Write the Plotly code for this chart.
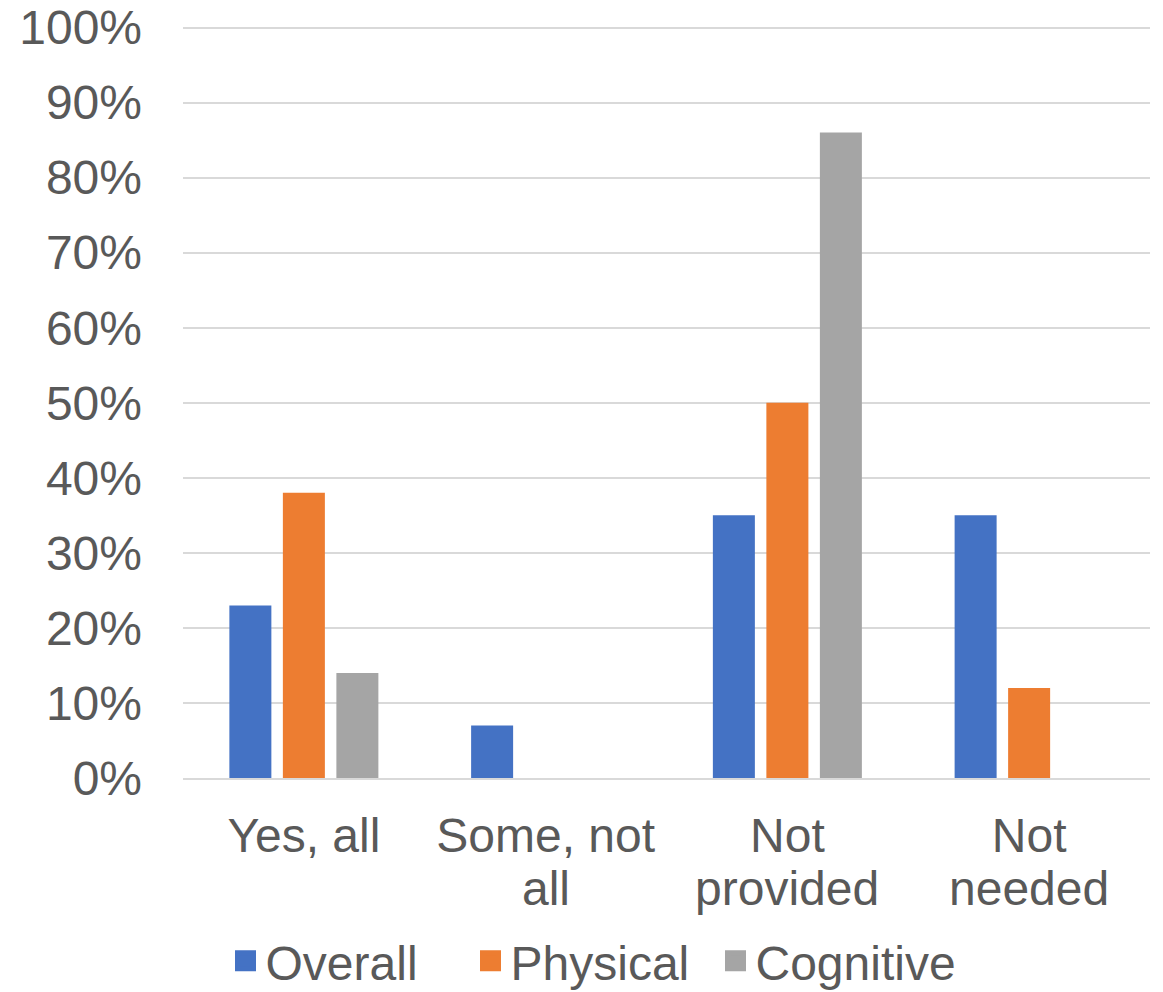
import plotly.graph_objects as go

categories = ["Yes, all", "Some, not all", "Not provided", "Not needed"]
label_line1 = ["Yes, all", "Some, not", "Not", "Not"]
label_line2 = ["", "all", "provided", "needed"]
overall = [23, 7, 35, 35]
physical = [38, 0, 50, 12]
cognitive = [14, 0, 86, 0]

series = [
    ("Overall", overall, "#4472C4"),
    ("Physical", physical, "#ED7D31"),
    ("Cognitive", cognitive, "#A5A5A5"),
]

FONT = "Liberation Sans, Arial, sans-serif"
TXT = "#595959"
FS = 48

fig = go.Figure()
for name, vals, col in series:
    fig.add_trace(go.Bar(
        x=categories, y=vals, name=name, showlegend=False,
        marker=dict(color=col, line=dict(width=0)),
    ))
for name, vals, col in series:
    fig.add_trace(go.Scatter(
        x=[None], y=[None], name=name, mode="markers",
        marker=dict(symbol="square", size=24, color=col,
                    line=dict(color=col, width=8)),
    ))

for cat, l2 in zip(categories, label_line2):
    if l2:
        fig.add_annotation(
            x=cat, xref="x", y=0, yref="paper", text=l2, showarrow=False,
            yanchor="middle", yshift=-110,
            font=dict(size=FS, color=TXT, family=FONT),
        )

fig.update_layout(
    width=1163, height=992,
    margin=dict(l=183, r=13, t=26, b=214, autoexpand=False),
    paper_bgcolor="white", plot_bgcolor="white",
    barmode="group", bargap=0.336, bargroupgap=0.215,
    font=dict(family=FONT, size=FS, color=TXT),
    legend=dict(
        orientation="h", x=0.424, xanchor="center", y=-0.2435, yanchor="middle",
        font=dict(size=FS, color=TXT), itemwidth=30, traceorder="normal",
        borderwidth=0, entrywidth=200, entrywidthmode="pixels",
    ),
    showlegend=True,
)
fig.update_yaxes(
    range=[0, 100.2], tick0=0, dtick=10, ticksuffix="%",
    showgrid=True, gridcolor="#D9D9D9", gridwidth=2,
    zeroline=False, showline=False, automargin=False,
    ticklabelstandoff=40,
    tickfont=dict(size=FS, color=TXT, family=FONT),
)
fig.update_xaxes(
    showline=True, linecolor="#D9D9D9", linewidth=2, automargin=False,
    tickvals=categories, ticktext=label_line1,
    ticks="outside", ticklen=14, tickcolor="rgba(0,0,0,0)",
    tickfont=dict(size=FS, color=TXT, family=FONT),
)

fig.write_html("out.html")
